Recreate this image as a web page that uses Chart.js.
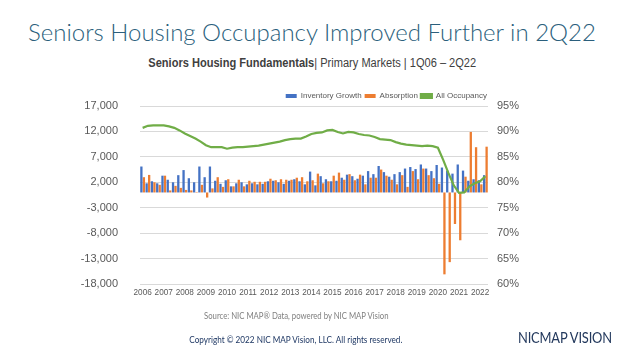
<!DOCTYPE html>
<html>
<head>
<meta charset="utf-8">
<script src="https://cdn.jsdelivr.net/npm/chart.js@4.4.0/dist/chart.umd.min.js"></script>
<style>
  html, body { margin: 0; padding: 0; background: #fff; }
  body { width: 624px; height: 351px; position: relative; overflow: hidden; font-family: "Liberation Sans", Arial, sans-serif; }
  #chartBox { position: absolute; left: 0; top: 0; width: 624px; height: 351px; }
  .row { position: absolute; left: 0; width: 624px; text-align: center; white-space: nowrap; }
  .row span { display: inline-block; }
  .title { top: 17px; line-height: 30px; font-family: Lato, sans-serif; font-size: 24px; font-weight: 300; color: #2b5f7c; }
  .subtitle { top: 56px; line-height: 14px; font-family: "Liberation Sans", sans-serif; font-size: 12.5px; color: #404040; }
  .subtitle span { transform: scaleX(0.885); }
  .source { width: 592px; top: 310px; line-height: 12px; font-family: Lato, sans-serif; font-size: 9px; color: #7f7f7f; }
  .source span { transform: scaleX(0.86); }
  .copy { width: 592px; top: 334px; line-height: 12px; font-family: Lato, sans-serif; font-size: 9.5px; color: #1f3864; }
  .copy span { transform: scaleX(0.86); }
  .logo { position: absolute; left: 518px; top: 328px; line-height: 18px; font-family: Lato, sans-serif; font-size: 15px; color: #23395d; white-space: nowrap; letter-spacing: -0.2px; transform: scaleX(0.86); transform-origin: left center; }
</style>
</head>
<body>
<div class="row title"><span>Seniors Housing Occupancy Improved Further in 2Q22</span></div>
<div class="row subtitle"><span><b>Seniors Housing Fundamentals</b>| Primary Markets | 1Q06 – 2Q22</span></div>
<div id="chartBox"><canvas id="fundChart"></canvas></div>
<div class="row source"><span>Source: NIC MAP® Data, powered by NIC MAP Vision</span></div>
<div class="row copy"><span>Copyright © 2022 NIC MAP Vision, LLC. All rights reserved.</span></div>
<div class="logo">NICMAP VISION</div>

<script>
// categories
const years = ["2006", "2007", "2008", "2009", "2010", "2011", "2012", "2013", "2014",
  "2015", "2016", "2017", "2018", "2019", "2020", "2021", "2022"];
const quarters = [];
years.forEach((y) => {
  for (let q = 1; q <= 4; q++) {
    if (y === "2022" && q > 2) break;
    quarters.push(q + "Q" + y.slice(2));
  }
});

// series (units, quarterly 1Q06 - 2Q22)
const inventoryGrowth = [
  5100, 1800, 2200, 1800,
  3300, 2500, 2000, 3400,
  4400, 2800, 2000, 5100,
  3000, 5100, 2300, 1700,
  2400, 1200, 1800, 2000,
  1600, 1800, 1600, 1700,
  2200, 2300, 2000, 1700,
  2300, 2600, 2200, 1600,
  4100, 1400, 3200, 2600,
  2200, 2300, 2900, 3500,
  3200, 2700, 3300, 4200,
  3600, 5200, 4000, 3100,
  3600, 4000, 4700, 5000,
  4600, 5500, 4700, 4200,
  5400, 4900, 4300, 3700,
  5500, 4300, 2300, 2600,
  2400, 3400
];
const absorption = [
  3000, 3450, 2000, 1500,
  3300, 400, 1300, 900,
  500, 400, 100, 1500,
  -1000, 800, 3000, 1100,
  2600, 1200, 2500, 1200,
  2300, 2100, 2100, 2100,
  2700, 2400, 2600, 2500,
  2500, 2900, 3000, 2200,
  2400, 3700, 1800, 2200,
  3300, 3900, 2500, 3600,
  2400, 3500, 1600, 2900,
  2900, 4500, 3300, 2500,
  1600, 3400, 1100, 4200,
  2600, 4700, 3400, 2800,
  1700, -16100, -13700, -6200,
  -9400, 3100, 11900, 8900,
  1600, 9000
];
// percent
const allOccupancy = [
  90.7, 91.1, 91.2, 91.2,
  91.2, 91.0, 90.7, 90.2,
  89.6, 89.1, 88.6, 88.0,
  87.3, 86.9, 86.9, 86.9,
  86.6, 86.8, 86.9, 86.9,
  87.0, 87.1, 87.2, 87.4,
  87.6, 87.8, 88.0, 88.3,
  88.5, 88.6, 88.6, 89.0,
  89.5, 89.7, 89.8, 90.2,
  90.3, 89.9, 89.6, 89.9,
  89.8, 89.5, 89.3, 89.2,
  88.9, 88.5, 88.4, 88.3,
  87.9, 87.6, 87.4, 87.3,
  87.2, 87.1, 87.2, 87.1,
  86.8, 84.4, 81.8, 79.4,
  77.9, 78.0, 79.2, 79.8,
  80.2, 81.2
];
const leftTicks = { min: -18000, max: 17000, step: 5000 };
const rightTicks = { min: 60, max: 95, step: 5 };

const BLUE = "#4472C4";
const ORANGE = "#ED7D31";
const GREEN = "#70AD47";
const TICK_COLOR = "#595959";

// move legend into place above plot (right aligned over the bars)
const legendNudge = {
  id: "legendNudge",
  afterLayout(chart) {
    const lg = chart.legend;
    lg.right = 490;
    lg.top += 4;
    lg.bottom += 4;
  },
};

const ctx = document.getElementById("fundChart");

new Chart(ctx, {
  type: "bar",
  data: {
    labels: quarters,
    datasets: [
      {
        label: "Inventory Growth",
        data: inventoryGrowth,
        backgroundColor: BLUE,
        borderWidth: 0,
        yAxisID: "y",
        order: 1,
        categoryPercentage: 0.95,
        barPercentage: 0.92,
      },
      {
        label: "Absorption",
        data: absorption,
        backgroundColor: ORANGE,
        borderWidth: 0,
        yAxisID: "y",
        order: 1,
        categoryPercentage: 0.95,
        barPercentage: 0.92,
      },
      {
        type: "line",
        label: "All Occupancy",
        data: allOccupancy,
        borderColor: GREEN,
        backgroundColor: GREEN,
        borderWidth: 2.2,
        pointRadius: 0,
        tension: 0,
        yAxisID: "y1",
        order: 0,
      },
    ],
  },
  options: {
    responsive: true,
    maintainAspectRatio: false,
    animation: false,
    layout: {
      padding: { left: 70, right: 86, top: 85, bottom: 47 },
    },
    scales: {
      x: {
        offset: true,
        grid: { display: false, drawTicks: false },
        border: { display: false },
        ticks: {
          autoSkip: false,
          maxRotation: 0,
          padding: 4,
          color: TICK_COLOR,
          font: { family: "Liberation Sans", size: 8.2 },
          callback: function (val) {
            const lbl = this.getLabelForValue(val);
            return lbl.startsWith("1Q") ? "20" + lbl.slice(2) : "";
          },
        },
        afterFit: (scale) => {
          scale.height = 20;
        },
      },
      y: {
        position: "left",
        min: leftTicks.min,
        max: leftTicks.max,
        grid: { color: "#d9d9d9", drawTicks: false },
        border: { display: false },
        ticks: {
          stepSize: leftTicks.step,
          padding: 22,
          color: TICK_COLOR,
          font: { family: "Liberation Sans", size: 11 },
          callback: (v) => (v < 0 ? "-" : "") + Math.abs(v).toLocaleString("en-US"),
        },
        afterFit: (scale) => {
          scale.width = 70;
        },
      },
      y1: {
        position: "right",
        min: rightTicks.min,
        max: rightTicks.max,
        grid: { display: false, drawTicks: false },
        border: { display: false },
        ticks: {
          stepSize: rightTicks.step,
          padding: 9,
          color: TICK_COLOR,
          font: { family: "Liberation Sans", size: 11 },
          callback: (v) => v + "%",
        },
        afterFit: (scale) => {
          scale.width = 50;
        },
      },
    },
    plugins: {
      legend: {
        position: "top",
        align: "end",
        labels: {
          boxWidth: 11,
          boxHeight: 4,
          padding: 3,
          color: TICK_COLOR,
          font: { family: "Liberation Sans", size: 8 },
          sort: (a, b) => a.datasetIndex - b.datasetIndex,
        },
      },
      tooltip: { enabled: false },
    },
  },
  plugins: [legendNudge],
});
</script>
</body>
</html>
